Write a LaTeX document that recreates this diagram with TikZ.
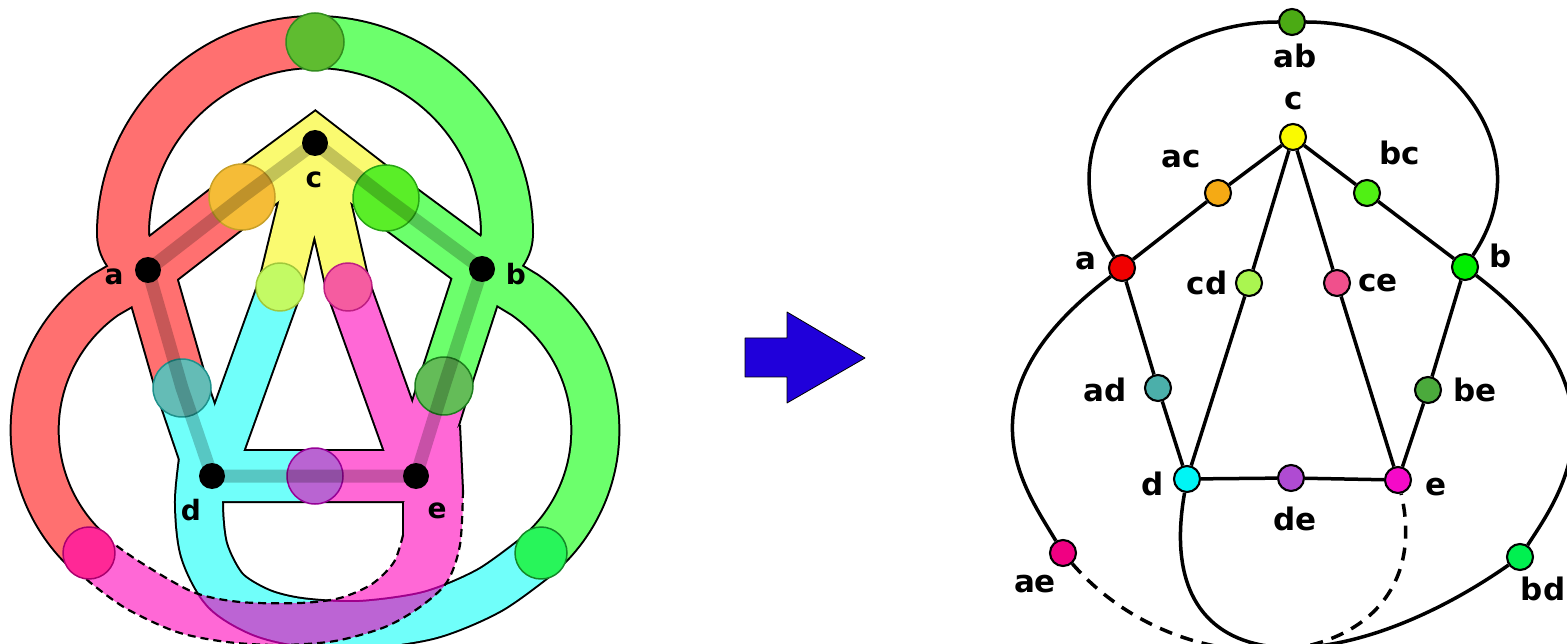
\documentclass[tikz,border=0pt]{standalone}
\usepackage{fontspec}
\setmainfont{DejaVu Sans}

\definecolor{regred}{RGB}{255,112,112}
\definecolor{reggrn}{RGB}{108,255,108}
\definecolor{regyel}{RGB}{250,250,112}
\definecolor{regcya}{RGB}{112,255,250}
\definecolor{regmag}{RGB}{255,104,214}
\definecolor{regpur}{RGB}{188,100,212}
\definecolor{overrim}{RGB}{160,0,140}
\definecolor{cab}{RGB}{95,188,48}   \definecolor{oab}{RGB}{50,140,30}
\definecolor{cac}{RGB}{245,188,55}  \definecolor{oac}{RGB}{200,160,40}
\definecolor{cbc}{RGB}{90,238,40}   \definecolor{obc}{RGB}{40,165,20}
\definecolor{ccd}{RGB}{195,250,100} \definecolor{ocd}{RGB}{160,200,60}
\definecolor{cce}{RGB}{245,92,160}  \definecolor{oce}{RGB}{190,30,130}
\definecolor{cad}{RGB}{100,188,182} \definecolor{oad}{RGB}{30,145,140}
\definecolor{cbe}{RGB}{100,188,88}  \definecolor{obe}{RGB}{30,125,30}
\definecolor{cde}{RGB}{185,100,210} \definecolor{ode}{RGB}{150,0,150}
\definecolor{cae}{RGB}{255,40,150}  \definecolor{oae}{RGB}{170,0,110}
\definecolor{cbd}{RGB}{40,245,90}   \definecolor{obd}{RGB}{20,135,40}
\definecolor{nab}{RGB}{75,170,20}
\definecolor{nc}{RGB}{250,250,0}
\definecolor{nac}{RGB}{245,170,20}
\definecolor{nbc}{RGB}{80,240,20}
\definecolor{na}{RGB}{240,0,0}
\definecolor{nb}{RGB}{0,238,0}
\definecolor{ncd}{RGB}{170,245,80}
\definecolor{nce}{RGB}{240,80,140}
\definecolor{nad}{RGB}{75,175,170}
\definecolor{nbe}{RGB}{75,170,60}
\definecolor{nd}{RGB}{0,245,245}
\definecolor{nde}{RGB}{175,75,210}
\definecolor{ne}{RGB}{245,10,200}
\definecolor{nae}{RGB}{240,0,130}
\definecolor{nbd}{RGB}{0,240,80}
\definecolor{arrowblue}{RGB}{32,0,218}

\begin{document}
\begin{tikzpicture}[x=1pt, y=-1pt, line join=round]
      \tikzstyle{gnode}=[circle, draw, line width=2.1pt, minimum size=26pt, inner sep=0pt]
      \tikzstyle{gedge}=[line width=3.5pt]
      \tikzstyle{lbl}=[font=\fontsize{31}{31}\selectfont\bfseries, anchor=base, inner sep=0pt]
      \tikzstyle{llbl}=[font=\fontsize{28}{28}\selectfont\bfseries, anchor=base, inner sep=0pt]
      \tikzstyle{stripe}=[line width=13pt, draw=black, draw opacity=0.22]
      \tikzstyle{tailedge}=[line width=2.2pt, dash pattern=on 8pt off 5pt]

      \useasboundingbox (0,0) rectangle (1567,644);

      % ribbon picture
      \def\redarms{(242,197) -- (148,270) -- (182,388)
        (148,270) .. controls (132,258) and (123,248) .. (123,234) arc[start angle=180, end angle=270, radius=192]}
      \def\redlow{(148,270) -- (105,295) arc[start angle=235, end angle=132, radius=165]}
      \def\grnarms{(386,198) -- (482,269) -- (444,386)
        (482,269) .. controls (498,258) and (507,248) .. (507,234) arc[start angle=0, end angle=-90, radius=192]}
      \def\grnlow{(482,269) -- (525,295) arc[start angle=-55, end angle=48, radius=165]}
      \def\yelarms{(242,197) -- (315,143) -- (386,198)}
      \def\yelprongs{(315,143) -- (280,287) (315,143) -- (348,287)}
      \def\cyaarms{(182,388) -- (212,476) -- (315,476)}
      \def\cyaprong{(212,476) -- (280,287)}
      \def\cyatail{plot[smooth] coordinates {(205,445) (199,500) (204,550) (225,590) (260,612) (300,622) (360,625) (430,615) (490,590) (541,553)}}
      \def\magarms{(444,386) -- (416,476) -- (315,476)}
      \def\magprong{(416,476) -- (348,287)}
      \def\magtail{(416,476) -- plot[smooth] coordinates {(460,425) (463,490) (460,545) (447,582) (420,607) (385,627) (335,641) (280,645) (227,642) (177,632) (127,609) (92,584) (74,567)}
        -- plot[smooth] coordinates {(106,538) (140,562) (193,592) (240,602) (300,603) (340,598) (372,584) (394,562) (403,535) (403,505)} -- cycle}

      \draw[line width=54pt] \redarms;
      \draw[line width=50pt] \redlow;
      \draw[line width=50pt, draw=regred] \redarms;
      \draw[line width=46pt, draw=regred] \redlow;

      \draw[line width=54pt] \grnarms;
      \draw[line width=50pt] \grnlow;
      \draw[line width=50pt, draw=reggrn] \grnarms;
      \draw[line width=46pt, draw=reggrn] \grnlow;

      \draw[line width=54pt, line join=miter] \yelarms;
      \draw[line width=46pt] \yelprongs;
      \draw[line width=50pt, line join=miter, draw=regyel] \yelarms;
      \draw[line width=42pt, draw=regyel] \yelprongs;

      \draw[line width=54pt] \cyaarms;
      \draw[line width=46pt] \cyaprong;
      \draw[line width=50pt] \cyatail;
      \draw[line width=50pt, draw=regcya] \cyaarms;
      \draw[line width=42pt, draw=regcya] \cyaprong;
      \draw[line width=46pt, draw=regcya] \cyatail;

      \draw[line width=54pt] \magarms;
      \draw[line width=46pt] \magprong;
      \draw[line width=50pt, draw=regmag] \magarms;
      \draw[line width=42pt, draw=regmag] \magprong;
      \fill[regmag] \magtail;

      \begin{scope}
        \clip \magtail;
        \draw[line width=50pt, draw=overrim] \cyatail;
        \draw[line width=46pt, draw=regpur] \cyatail;
      \end{scope}

      \draw[line width=2pt] (460,425) -- (463,490);
      \draw[line width=2pt] (403,535) -- (403,503);
      \draw[tailedge] plot[smooth] coordinates {(463,490) (460,545) (447,582) (420,607) (385,627) (335,641) (280,645) (227,642) (177,632) (127,609) (92,584) (74,567)};
      \draw[tailedge] plot[smooth] coordinates {(106,538) (140,562) (193,592) (240,602) (300,603) (340,598) (372,584) (394,562) (403,535)};

      \foreach \x/\y/\r/\f/\o in {315/42/29/cab/oab, 242/197/33/cac/oac, 386/198/33/cbc/obc,
          280/287/24/ccd/ocd, 348/287/24/cce/oce, 182/388/29/cad/oad, 444/386/29/cbe/obe,
          315/476/28/cde/ode, 89/553/26/cae/oae, 541/553/26/cbd/obd}
      {
        \filldraw[fill=\f, draw=\o, line width=1.5pt] (\x,\y) circle[radius=\r];
      }

      \draw[stripe] (148,270) -- (242,197) -- (315,143) -- (386,198) -- (482,269) -- (444,386)
        -- (416,476) -- (315,476) -- (212,476) -- (182,388) -- cycle;

      \foreach \x/\y in {148/270, 482/269, 315/143, 212/476, 416/476}
      {
        \fill (\x,\y) circle[radius=13];
      }

      \node[llbl] (la) at (114,285) {a};
      \node[llbl] (lb) at (516,285) {b};
      \node[llbl] (lc) at (314,188) {c};
      \node[llbl] (ld) at (191,520) {d};
      \node[llbl] (le) at (437,518) {e};

      % arrow
      \filldraw[fill=arrowblue, draw=black, line width=0.8pt]
        (745,338) -- (787,338) -- (787,312) -- (865,358) -- (787,403) -- (787,377) -- (745,377) -- cycle;

      % graph
      \foreach \n/\x/\y/\c in {ab/1292/22/nab, c/1293/137/nc, ac/1218/193/nac, bc/1367/193/nbc,
          a/1122/268/na, b/1465/267/nb, cd/1249/283/ncd, ce/1337/283/nce, ad/1158/388/nad,
          be/1428/390/nbe, d/1187/479/nd, de/1291/478/nde, e/1398/480/ne, ae/1063/553/nae, bd/1520/557/nbd}
      {
        \node[gnode, fill=\c] (\n) at (\x,\y) {};
      }

      \foreach \n/\x/\y in {ab/1295/68, c/1294/110, ac/1181/168, bc/1400/165, a/1086/270, b/1501/268,
          cd/1207/295, ce/1378/292, ad/1105/402, be/1475/402, d/1153/495, e/1436/495,
          de/1295/530, ae/1035/592, bd/1543/600}
      {
        \node[lbl] (t\n) at (\x,\y) {\n};
      }

      \draw[gedge]
        (a) -- (ac) -- (c) -- (bc) -- (b)
        (c) -- (cd) -- (d)
        (c) -- (ce) -- (e)
        (a) -- (ad) -- (d)
        (b) -- (be) -- (e)
        (d) -- (de) -- (e);

      \draw[gedge]
        (a) to[out=124, in=180, looseness=1.2] (ab)
        (ab) to[out=0, in=56, looseness=1.2] (b)
        (a) .. controls (952,396) and (1026,490) .. (ae)
        (b) .. controls (1635,396) and (1558,498) .. (bd)
        (d) to[out=-100, in=-145, looseness=1.55] (bd);

      \draw[gedge, dash pattern=on 13pt off 9pt]
        (ae) to[out=-49, in=-77, looseness=1.4] (e);
    \end{tikzpicture}
\end{document}
